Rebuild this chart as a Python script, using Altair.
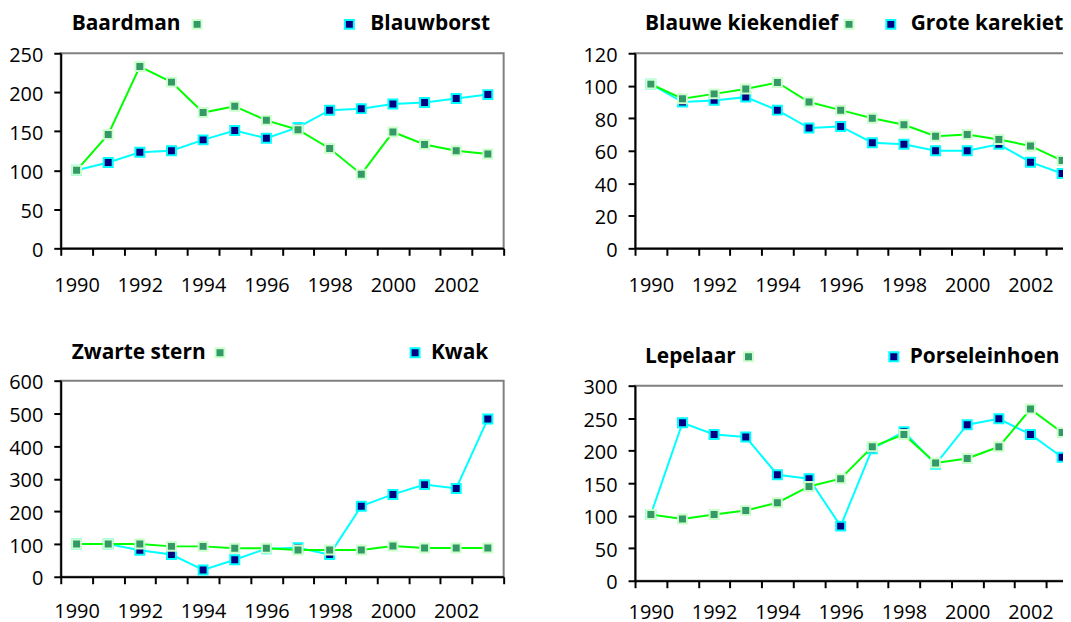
import altair as alt
import pandas as pd

years = list(range(1990, 2004))

baardman = [100, 146, 233, 213, 174, 182, 164, 152, 128, 95, 149, 133, 125, 121]
blauwborst = [100, 110, 123, 125, 139, 151, 141, 155, 177, 179, 185, 187, 192, 197]

blauwe_kiekendief = [101, 92, 95, 98, 102, 90, 85, 80, 76, 69, 70, 67, 63, 54]
grote_karekiet = [101, 90, 91, 93, 85, 74, 75, 65, 64, 60, 60, 64, 53, 46]

zwarte_stern = [100, 100, 100, 93, 93, 87, 87, 82, 82, 82, 94, 88, 88, 88]
kwak = [100, 100, 81, 68, 21, 52, 86, 89, 68, 216, 252, 282, 270, 483]

lepelaar = [102, 95, 102, 108, 120, 145, 157, 206, 225, 181, 188, 206, 264, 228]
porseleinhoen = [102, 243, 225, 221, 163, 157, 84, 203, 229, 179, 240, 249, 225, 190]

GREEN_LINE = "#00FF00"
GREEN_FILL = "#339966"
GREEN_EDGE = "#CCFFCC"
BLUE_LINE = "#00FFFF"
BLUE_FILL = "#000080"
BLUE_EDGE = "#00FFFF"
FONT = "Open Sans"


def legend_text(name, x, y):
    return alt.Chart(pd.DataFrame({"t": [name]})).mark_text(
        align="left", baseline="middle", font=FONT, fontWeight="bold",
        fontSize=21, color="black"
    ).encode(text="t:N", x=alt.value(x), y=alt.value(y))


def legend_marker(fill, edge, x, y):
    return alt.Chart(pd.DataFrame({"t": ["m"]})).mark_square(
        size=81, filled=True, fill=fill, stroke=edge, strokeWidth=2, opacity=1
    ).encode(x=alt.value(x), y=alt.value(y))


def panel(a_vals, b_vals, a_name, b_name, ymax, ystep, h, leg, xpad):
    df = pd.DataFrame({"year": years, "a": a_vals, "b": b_vals})
    x = alt.X(
        "year:O",
        scale=alt.Scale(type="band", paddingInner=0, paddingOuter=0),
        axis=alt.Axis(
            title=None, tickBand="extent", labelAngle=0, labelPadding=xpad,
            labelOverlap=False,
            labelExpr="datum.value % 2 == 0 ? datum.label : ''",
        ),
    )
    yscale = alt.Scale(domain=[0, ymax], nice=False, zero=True)
    yaxis = alt.Axis(title=None, values=list(range(0, ymax + 1, ystep)),
                     labelPadding=11, labelOffset=2, labelOverlap=False,
                     labelBound=False)
    base = alt.Chart(df)
    line_b = base.mark_line(color=BLUE_LINE, strokeWidth=2).encode(
        x=x, y=alt.Y("b:Q", scale=yscale, axis=yaxis))
    pts_b = base.mark_square(size=81, filled=True, fill=BLUE_FILL, stroke=BLUE_EDGE,
                             strokeWidth=2, opacity=1).encode(
        x=x, y=alt.Y("b:Q", scale=yscale, axis=yaxis))
    line_a = base.mark_line(color=GREEN_LINE, strokeWidth=2).encode(
        x=x, y=alt.Y("a:Q", scale=yscale, axis=yaxis))
    pts_a = base.mark_square(size=81, filled=True, fill=GREEN_FILL, stroke=GREEN_EDGE,
                             strokeWidth=2, opacity=1).encode(
        x=x, y=alt.Y("a:Q", scale=yscale, axis=yaxis))
    ly, ta, ma, mb, tb = leg
    layers = [
        line_b, pts_b, line_a, pts_a,
        legend_text(a_name, ta, ly),
        legend_marker(GREEN_FILL, GREEN_EDGE, ma, ly),
        legend_marker(BLUE_FILL, BLUE_EDGE, mb, ly),
        legend_text(b_name, tb, ly),
    ]
    return alt.layer(*layers).properties(width=445, height=h)


p1 = panel(baardman, blauwborst, "Baardman", "Blauwborst", 250, 50, 196,
           (-29, 11, 137, 290, 311), 20)
p2 = panel(blauwe_kiekendief, grote_karekiet, "Blauwe kiekendief", "Grote karekiet",
           120, 20, 196, (-29, 10, 215, 257, 277), 20)
p3 = panel(zwarte_stern, kwak, "Zwarte stern", "Kwak", 600, 100, 197,
           (-28, 11, 160, 356, 372), 18)
p4 = panel(lepelaar, porseleinhoen, "Lepelaar", "Porseleinhoen", 300, 50, 196,
           (-29, 10, 114, 260, 276), 15)

chart = alt.hconcat(
    alt.vconcat(p1, p3, spacing=45),
    alt.vconcat(p2, p4, spacing=49),
    spacing=76,
).properties(
    padding={"left": -1, "top": 3, "right": -17, "bottom": 0},
    background="white",
).configure_axis(
    labelFont=FONT, labelFontSize=20, labelColor="black",
    domainColor="black", domainWidth=2, tickColor="black", tickWidth=2,
    tickSize=7, grid=False, labelOverlap=False,
).configure_view(
    stroke="#808080", strokeWidth=2,
)

chart.save("out.html", embed_options={"renderer": "svg", "actions": False})
